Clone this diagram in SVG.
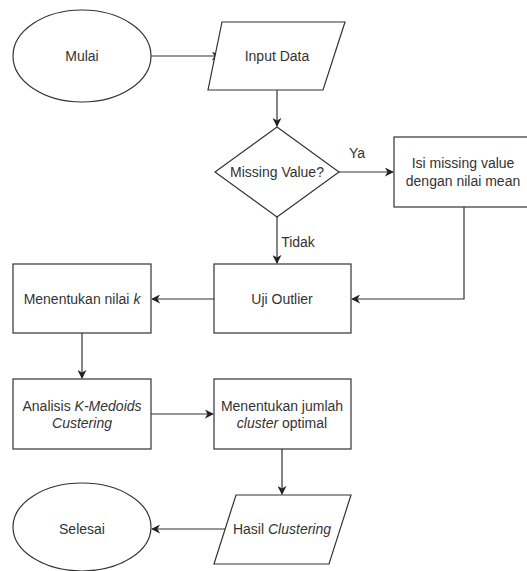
<svg xmlns="http://www.w3.org/2000/svg" width="527" height="571" viewBox="0 0 527 571">
<defs>
<style>
.s{fill:#fff;stroke:#333;stroke-width:1.2}
.c{fill:none;stroke:#333;stroke-width:1.2}
text{font-family:"Liberation Sans",Arial,sans-serif;font-size:14px;fill:#333;text-anchor:middle}
.i{font-style:italic}
</style>
<marker id="a" viewBox="0 0 10 10" refX="9" refY="5" markerWidth="9" markerHeight="9" markerUnits="userSpaceOnUse" orient="auto">
<path d="M0,0 L10,5 L0,10 L3,5 Z" fill="#222"/>
</marker>
</defs>
<rect width="527" height="571" fill="#fff"/>
<g id="connectors">
<path class="c" d="M151,56 H220" marker-end="url(#a)"/>
<path class="c" d="M277,90 V126" marker-end="url(#a)"/>
<path class="c" d="M339,172 H393" marker-end="url(#a)"/>
<path class="c" d="M277,217 V263" marker-end="url(#a)"/>
<path class="c" d="M464,207 V299 H352" marker-end="url(#a)"/>
<path class="c" d="M214,299 H152" marker-end="url(#a)"/>
<path class="c" d="M82,333 V378" marker-end="url(#a)"/>
<path class="c" d="M151,414 H213" marker-end="url(#a)"/>
<path class="c" d="M282,449 V494" marker-end="url(#a)"/>
<path class="c" d="M225,529 H152" marker-end="url(#a)"/>
<text x="357" y="158">Ya</text>
<text x="298" y="247">Tidak</text>
</g>
<g id="mulai">
<ellipse class="s" cx="82" cy="56" rx="69" ry="46"/>
<text x="82" y="61">Mulai</text>
</g>
<g id="input">
<polygon class="s" points="222,22 345,22 323,90 208,90"/>
<text x="277" y="61">Input Data</text>
</g>
<g id="missing">
<polygon class="s" points="277,127 339,172 277,217 215,172"/>
<text x="277" y="177">Missing Value?</text>
</g>
<g id="isi">
<rect class="s" x="394" y="137" width="138" height="70"/>
<text x="463" y="168">Isi missing value</text>
<text x="463" y="186">dengan nilai mean</text>
</g>
<g id="uji">
<rect class="s" x="214" y="264" width="137" height="69"/>
<text x="282" y="304">Uji Outlier</text>
</g>
<g id="nilaik">
<rect class="s" x="13" y="264" width="138" height="69"/>
<text x="82" y="304">Menentukan nilai <tspan class="i">k</tspan></text>
</g>
<g id="analisis">
<rect class="s" x="13" y="379" width="138" height="70"/>
<text x="82" y="411">Analisis <tspan class="i">K-Medoids</tspan></text>
<text x="82" y="428" class="i">Custering</text>
</g>
<g id="jumlah">
<rect class="s" x="214" y="379" width="137" height="70"/>
<text x="282" y="411">Menentukan jumlah</text>
<text x="282" y="428"><tspan class="i">cluster</tspan> optimal</text>
</g>
<g id="hasil">
<polygon class="s" points="236,495 351,495 329,564 214,564"/>
<text x="282" y="534">Hasil <tspan class="i">Clustering</tspan></text>
</g>
<g id="selesai">
<ellipse class="s" cx="82" cy="527" rx="69" ry="44"/>
<text x="82" y="534">Selesai</text>
</g>
</svg>
